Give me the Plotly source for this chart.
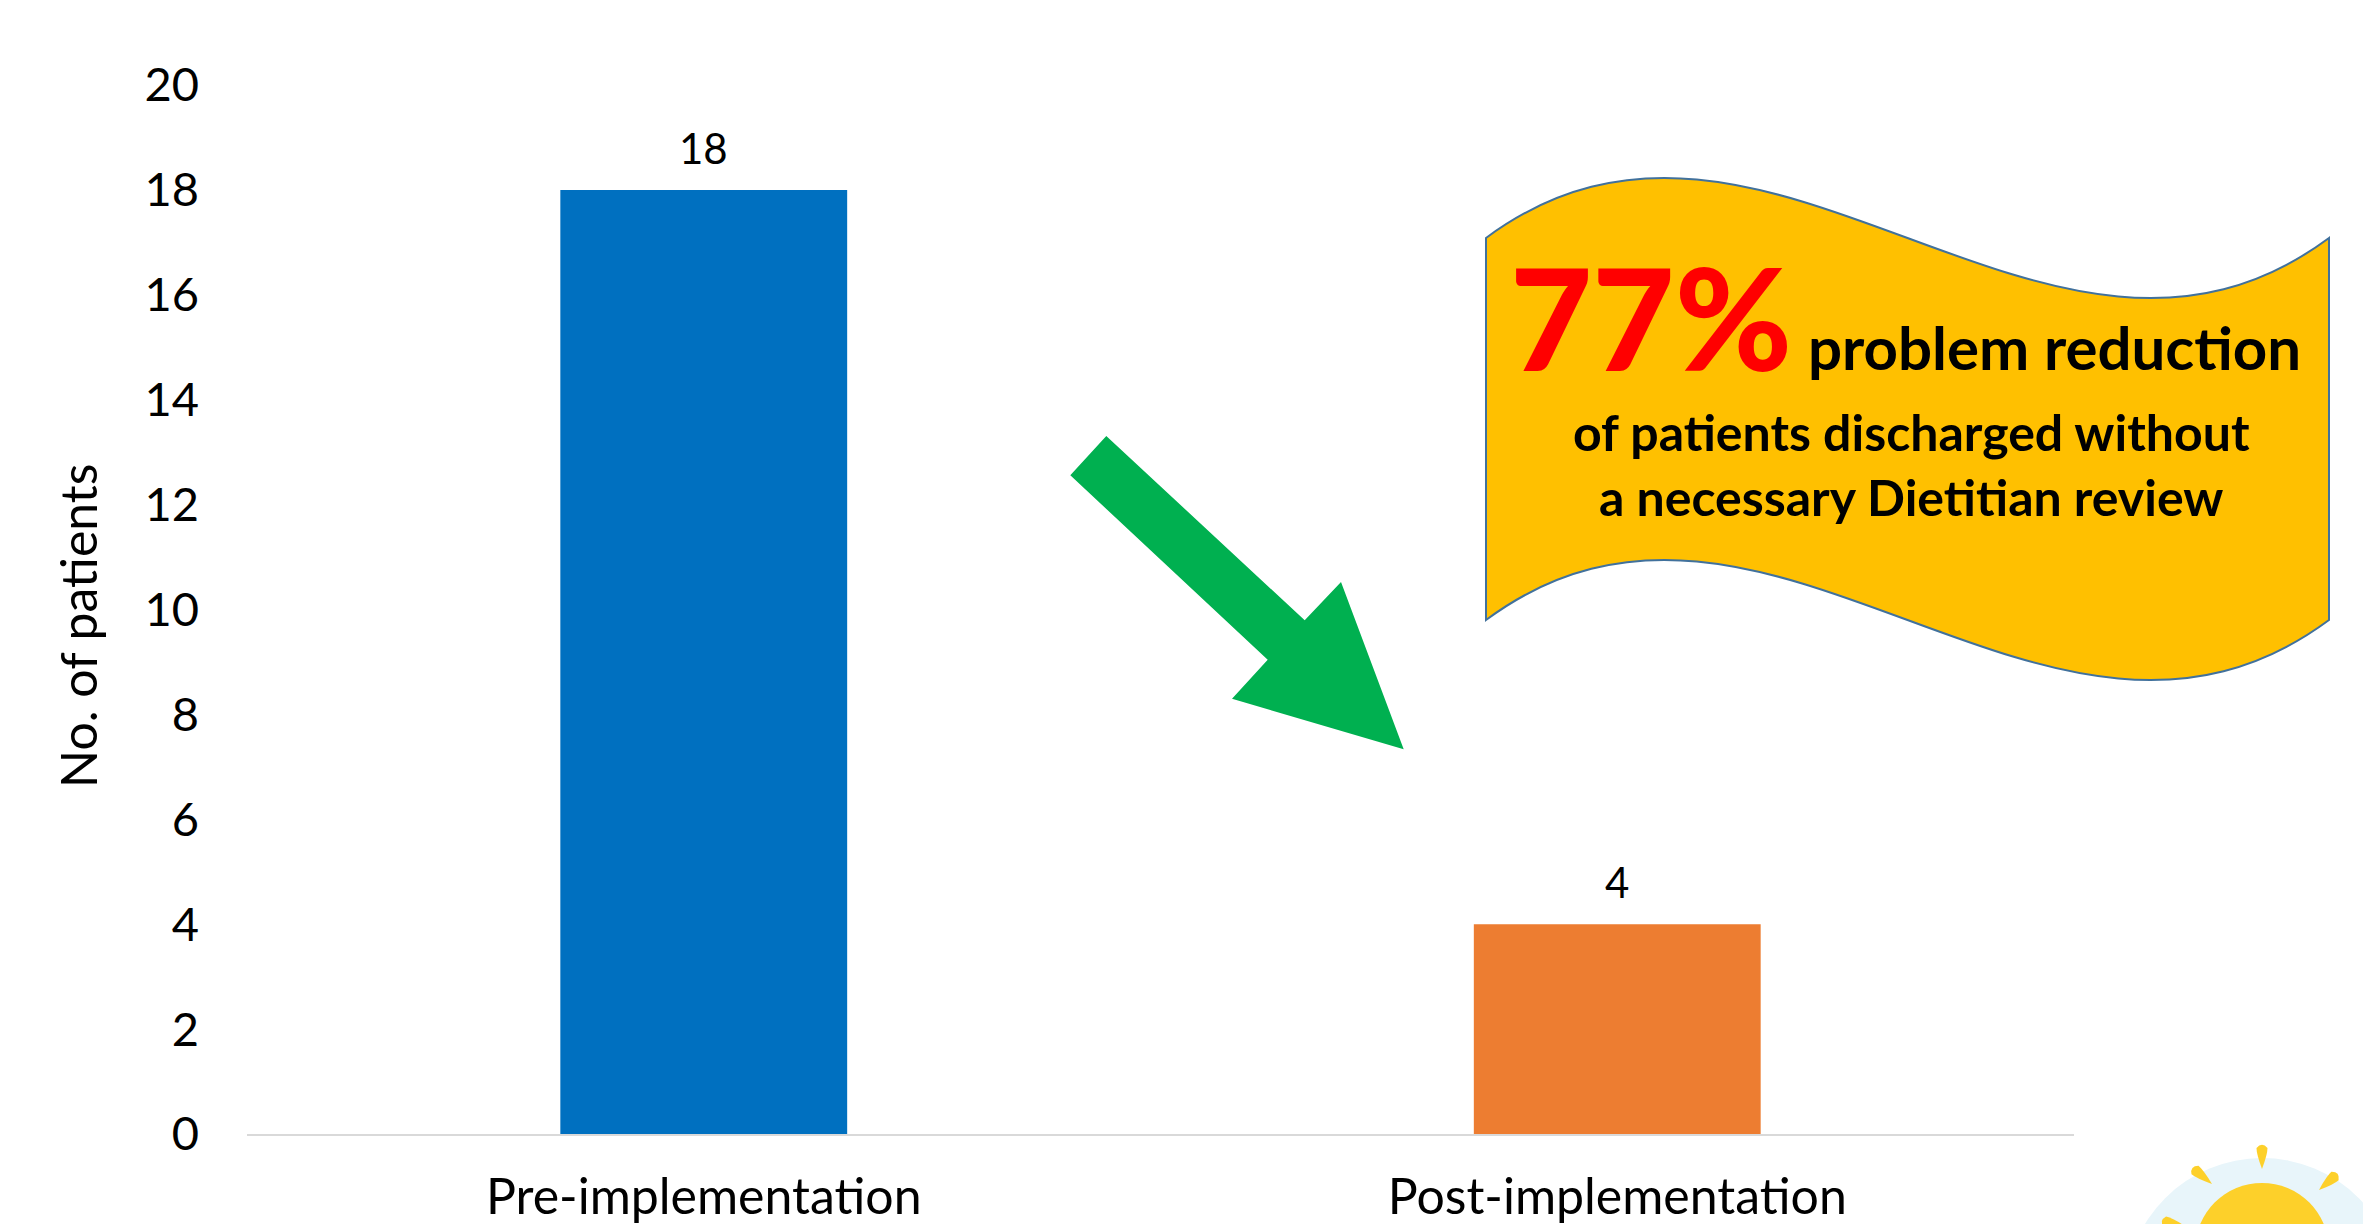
import plotly.graph_objects as go

# Chart data
categories = ['Pre-implementation', 'Post-implementation']
patients = [18, 4]
bar_colors = ['#0070C0', '#ED7D31']
y_ticks = [0, 2, 4, 6, 8, 10, 12, 14, 16, 18, 20]

W, H = 2371, 1224
L, R, T, B = 247, 2074, 85, 1134
PAGE_MARGIN = 8  # the page body keeps its default margin
FONT = 'Lato'


# Decorations are placed by picture pixels, converted to paper coordinates
def px(x):
    return (x - L) / (R - L)


def py(y):
    return (B - y) / (B - T)


def pt(x, y):
    return f'{px(x):.5f},{py(y):.5f}'


def wave_path(x0, x1, y_left, y_right, a):
    w = x1 - x0
    top = f'M{pt(x0, y_left)} C{pt(x0 + w / 3, y_left - a)} {pt(x0 + 2 * w / 3, y_left + a)} {pt(x1, y_left)}'
    bottom = f'L{pt(x1, y_right)} C{pt(x0 + 2 * w / 3, y_right + a)} {pt(x0 + w / 3, y_right - a)} {pt(x0, y_right)} Z'
    return top + ' ' + bottom


def poly_path(points):
    return 'M' + ' L'.join(pt(x, y) for x, y in points) + ' Z'


def ray_path(x0, y0, x1, y1, width):
    # teardrop ray: fat rounded end at (x0, y0), point at (x1, y1)
    dx, dy = x1 - x0, y1 - y0
    n = (dx * dx + dy * dy) ** 0.5
    ux, uy = dx / n, dy / n
    nx, ny = -uy * width / 2, ux * width / 2
    return (f'M{pt(x1, y1)} Q{pt(x0 + nx + ux * n * 0.3, y0 + ny + uy * n * 0.3)} {pt(x0 + nx, y0 + ny)} '
            f'Q{pt(x0 - ux * width * 0.6, y0 - uy * width * 0.6)} {pt(x0 - nx, y0 - ny)} '
            f'Q{pt(x0 - nx + ux * n * 0.3, y0 - ny + uy * n * 0.3)} {pt(x1, y1)} Z')


def circle(cx, cy, r, color):
    return dict(type='circle', xref='paper', yref='paper', x0=px(cx - r), x1=px(cx + r),
                y0=py(cy - r), y1=py(cy + r), fillcolor=color, line_width=0, layer='below')


def path_shape(path, color, line=None):
    shape = dict(type='path', xref='paper', yref='paper', path=path, fillcolor=color)
    shape['line'] = dict(color=line, width=2) if line else dict(width=0)
    return shape


def label(text, x, y, size, color='black', anchor='center', weight='bold', angle=0):
    return dict(xref='paper', yref='paper', x=px(x), y=py(y), text=text,
                showarrow=False, xanchor=anchor, yanchor='middle', textangle=angle,
                font=dict(family=FONT, size=size, color=color, weight=weight))


trace = go.Bar(x=categories, y=patients, marker=dict(color=bar_colors, line_width=0), width=0.314,
               hovertemplate='%{x}: %{y}<extra></extra>')

shapes = [
    # sun in the corner
    circle(2262, 1295, 137, '#E8F5FA'),
    circle(2262, 1250, 67, '#FDD02A'),
    path_shape(ray_path(2262, 1148, 2262, 1169, 11), '#FDD02A'),
    path_shape(ray_path(2195, 1170, 2212, 1184, 11), '#FDD02A'),
    path_shape(ray_path(2335, 1176, 2319, 1190, 11), '#FDD02A'),
    path_shape(ray_path(2165, 1222, 2185, 1226, 11), '#FDD02A'),
    # callout and arrow
    path_shape(wave_path(1486, 2329, 238, 620, 208), '#FFC000', line='#41719C'),
    path_shape(poly_path([(1106.3, 436), (1070.3, 475.3), (1267.7, 659.7), (1232, 698.7),
                          (1403.7, 749.3), (1341, 582), (1304.7, 620.3)]), '#00B050'),
]

annotations = [
    label('77%', 1508, 316, 142, color='#FF0000', anchor='left', weight=900),
    label('problem reduction', 1806, 347, 60, anchor='left'),
    label('of patients discharged without', 1911, 432, 50),
    label('a necessary Dietitian review', 1911, 497, 50),
    label('No. of patients', 78, 626, 50, weight='normal', angle=-90),
]
# value labels above the bars
for cat, val in zip(categories, patients):
    annotations.append(dict(x=cat, y=val, xref='x', yref='y', text=str(val), showarrow=False,
                            yanchor='bottom', yshift=15, font=dict(family=FONT, size=42, color='black')))

layout = go.Layout(
    width=W, height=H,
    margin=dict(l=L - PAGE_MARGIN, r=W - R + PAGE_MARGIN, t=T - PAGE_MARGIN, b=H - B + PAGE_MARGIN, pad=0),
    paper_bgcolor='white', plot_bgcolor='white',
    showlegend=False,
    font=dict(family=FONT, color='black'),
    xaxis=dict(showline=True, linecolor='#D9D9D9', linewidth=2, showgrid=False, zeroline=False, ticks='',
               tickfont=dict(size=50), ticklabelstandoff=18, automargin=False),
    yaxis=dict(range=[0, 20], tickvals=y_ticks, showline=False, showgrid=False, zeroline=False, ticks='',
               tickfont=dict(size=47), ticklabelstandoff=47, automargin=False),
    shapes=shapes, annotations=annotations,
)

fig = go.Figure(data=[trace], layout=layout)
fig.write_html("out.html")
